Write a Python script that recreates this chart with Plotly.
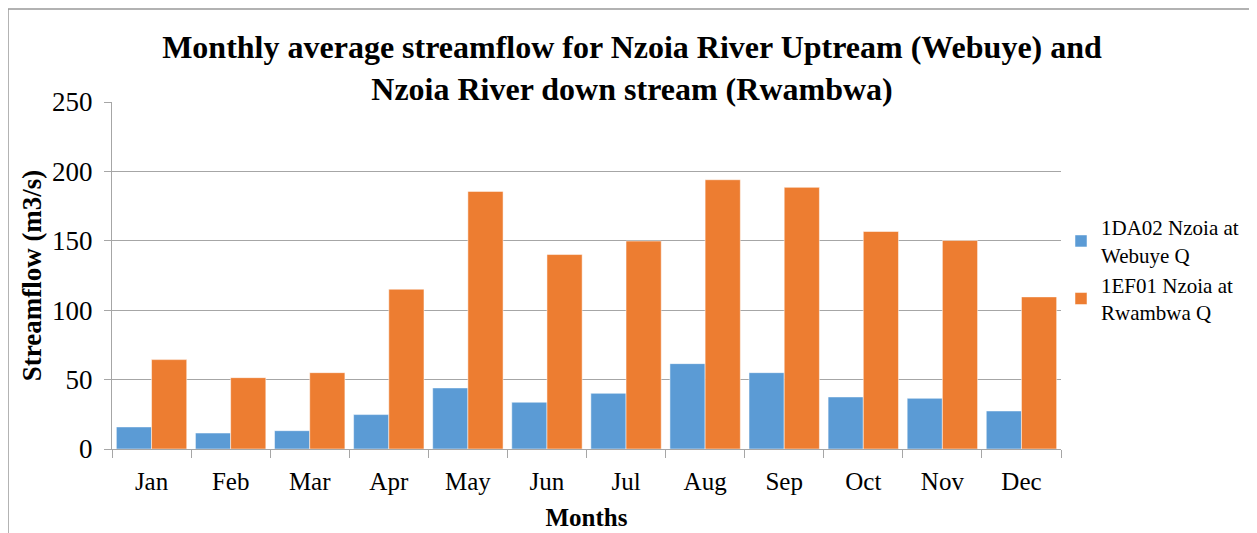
import plotly.graph_objects as go

# Monthly average streamflow (m3/s)
months = ["Jan", "Feb", "Mar", "Apr", "May", "Jun", "Jul", "Aug", "Sep", "Oct", "Nov", "Dec"]
webuye_q = [15.9, 11.5, 13.2, 24.8, 44.0, 33.7, 40.1, 61.5, 55.0, 37.5, 36.5, 27.4]
rwambwa_q = [64.4, 51.4, 55.0, 115.1, 185.6, 140.1, 149.8, 194.0, 188.5, 156.7, 150.2, 109.6]

series_names = ["1DA02 Nzoia at<br>Webuye Q", "1EF01 Nzoia at<br>Rwambwa Q"]
y_ticks = [0, 50, 100, 150, 200, 250]

FONT = "Liberation Serif"
GRID = "#a6a6a6"

fig = go.Figure()
fig.add_trace(go.Bar(x=months, y=webuye_q, name=series_names[0],
                     marker=dict(color="#5B9BD5", line=dict(color="white", width=0.5))))
fig.add_trace(go.Bar(x=months, y=rwambwa_q, name=series_names[1],
                     marker=dict(color="#ED7D31", line=dict(color="white", width=0.5))))

# page body adds ~8px offset, margins compensate for it
fig.update_layout(
    width=1257, height=533,
    margin=dict(l=104, r=204, t=94, b=92),
    paper_bgcolor="white", plot_bgcolor="white",
    barmode="group", bargap=0.11, bargroupgap=0,
    font=dict(family=FONT, color="black"),
    title=dict(
        text="<b>Monthly average streamflow for Nzoia River Uptream (Webuye) and<br>Nzoia River down stream (Rwambwa)</b>",
        x=624 / 1257, xanchor="center", xref="container",
        y=1 - 50 / 533, yanchor="top", yref="container",
        font=dict(size=32, family=FONT),
    ),
    legend=dict(
        x=1.0, xanchor="left", y=0.697, yanchor="top",
        font=dict(size=21, family=FONT),
        bgcolor="rgba(0,0,0,0)",
        itemwidth=30,
    ),
    showlegend=True,
)

fig.update_xaxes(
    showline=True, linecolor=GRID, linewidth=1,
    ticks="outside", ticklen=8, tickcolor=GRID, tickson="boundaries",
    tickfont=dict(size=25, family=FONT), ticklabelstandoff=10,
    title=dict(text="<b>Months</b>", font=dict(size=25, family=FONT), standoff=14),
)
fig.update_yaxes(
    range=[0, 250], tickvals=y_ticks,
    showline=True, linecolor=GRID, linewidth=1,
    showgrid=True, gridcolor=GRID, gridwidth=1,
    ticks="outside", ticklen=7, tickcolor=GRID,
    tickfont=dict(size=27, family=FONT), ticklabelstandoff=6,
    title=dict(text="<b>Streamflow (m3/s)</b>", font=dict(size=27, family=FONT), standoff=2),
    zeroline=False,
)

# chart area border
fig.add_shape(type="rect", xref="paper", yref="paper",
              x0=-0.1096, x1=1.2023, y0=-0.4, y1=1.268,
              line=dict(color="#999999", width=1.5), layer="below")

fig.write_html("out.html")
